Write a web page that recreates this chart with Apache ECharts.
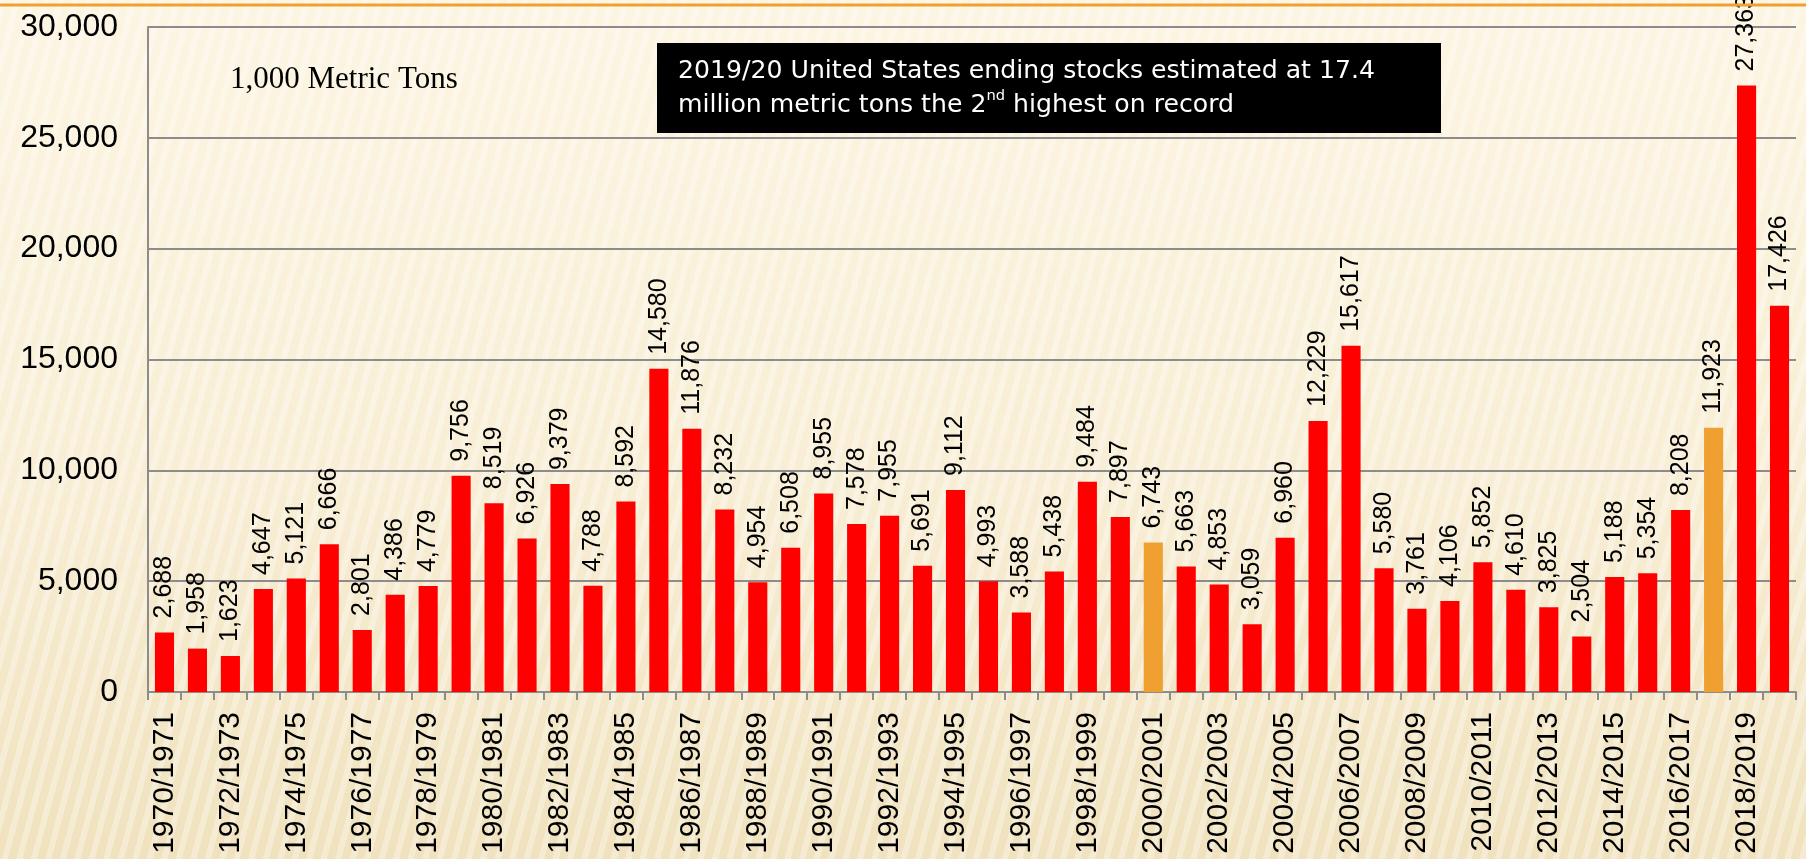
<!DOCTYPE html>
<html>
<head>
<meta charset="utf-8">
<script src="https://cdn.jsdelivr.net/npm/echarts@6/dist/echarts.min.js"></script>
<style>
  html, body { margin: 0; padding: 0; }
  body {
    width: 1806px;
    height: 859px;
    overflow: hidden;
    background:
      repeating-linear-gradient(105deg, rgba(255,255,255,0.32) 0px, rgba(255,255,255,0.32) 6px, rgba(0,0,0,0) 6px, rgba(0,0,0,0) 14px),
      linear-gradient(180deg, #fcf5e2 0%, #f8eed5 55%, #f0e2be 100%);
  }
  #chart { width: 1806px; height: 859px; }
</style>
</head>
<body>
<div id="chart"></div>
<script>
// marketing years, one bar per year
const years = []
for (let y = 1970; y <= 2019; y++) years.push(y + '/' + (y + 1))

// ending stocks, 1,000 metric tons
const stocks = [
  2688, 1958, 1623, 4647, 5121, 6666, 2801, 4386, 4779, 9756,
  8519, 6926, 9379, 4788, 8592, 14580, 11876, 8232, 4954, 6508,
  8955, 7578, 7955, 5691, 9112, 4993, 3588, 5438, 9484, 7897,
  6743, 5663, 4853, 3059, 6960, 12229, 15617, 5580, 3761, 4106,
  5852, 4610, 3825, 2504, 5188, 5354, 8208, 11923, 27363, 17426
]

// years drawn in orange
const highlighted = ['2000/2001', '2017/2018']

const noteLine1 = '2019/20 United States ending stocks estimated at 17.4'
const noteLine2a = 'million metric tons the 2'
const noteLine2b = ' highest on record'

const RED = '#ff0000'
const ORANGE = '#f0a030'
const GRID_GRAY = '#8c8c8c'
const SANS = 'Liberation Sans, Arial, sans-serif'
const NOTE_FONT = '"DejaVu Sans", Verdana, sans-serif'

const fmt = v => Number(v).toLocaleString('en-US')

// fit the caption's first line to the width it has in the slide
const ctx = document.createElement('canvas').getContext('2d')
ctx.font = '24px ' + NOTE_FONT
const noteScale = 697 / ctx.measureText(noteLine1).width

const chart = echarts.init(document.getElementById('chart'))

chart.setOption({
  animation: false,
  backgroundColor: 'transparent',
  grid: { left: 148, right: 10, top: 27, bottom: 167, containLabel: false },
  xAxis: {
    type: 'category',
    data: years,
    axisLine: { lineStyle: { color: GRID_GRAY, width: 2 } },
    axisTick: { show: true, interval: 0, length: 8, lineStyle: { color: GRID_GRAY, width: 2 } },
    axisLabel: {
      interval: 1,
      rotate: 90,
      margin: 20,
      color: '#000',
      fontSize: 30,
      fontFamily: SANS
    }
  },
  yAxis: {
    type: 'value',
    min: 0,
    max: 30000,
    interval: 5000,
    axisLine: { show: true, lineStyle: { color: GRID_GRAY, width: 2 } },
    axisTick: { show: false },
    splitLine: { lineStyle: { color: GRID_GRAY, width: 2 } },
    axisLabel: {
      margin: 30,
      color: '#000',
      fontSize: 32,
      fontFamily: SANS,
      formatter: fmt
    }
  },
  series: [{
    type: 'bar',
    barCategoryGap: '42%',
    data: stocks.map((v, i) => ({
      value: v,
      itemStyle: { color: highlighted.includes(years[i]) ? ORANGE : RED }
    })),
    label: {
      show: true,
      position: 'top',
      rotate: 90,
      align: 'left',
      verticalAlign: 'middle',
      distance: 14,
      color: '#000',
      fontSize: 25,
      fontFamily: SANS,
      formatter: p => fmt(p.value)
    }
  }],
  graphic: [
    {
      type: 'line',
      shape: { x1: 0, y1: 5, x2: 1806, y2: 5 },
      style: { stroke: ORANGE, lineWidth: 3 },
      z: 10
    },
    {
      type: 'text',
      left: 230,
      top: 64,
      style: {
        text: '1,000 Metric Tons',
        fill: '#000',
        font: '31px "Liberation Serif", "Times New Roman", serif'
      }
    },
    {
      type: 'rect',
      shape: { x: 657, y: 43, width: 784, height: 90 },
      style: { fill: '#000' }
    },
    {
      type: 'text',
      x: 678,
      y: 55,
      scaleX: noteScale,
      originX: 0,
      originY: 0,
      style: {
        text: '{a|' + noteLine1 + '}\n{a|' + noteLine2a + '}{s|nd}{a|' + noteLine2b + '}',
        rich: {
          a: { fill: '#fff', fontSize: 24, lineHeight: 34, fontFamily: NOTE_FONT },
          s: { fill: '#fff', fontSize: 14, lineHeight: 22, verticalAlign: 'top', fontFamily: NOTE_FONT }
        }
      }
    }
  ]
})
</script>
</body>
</html>
